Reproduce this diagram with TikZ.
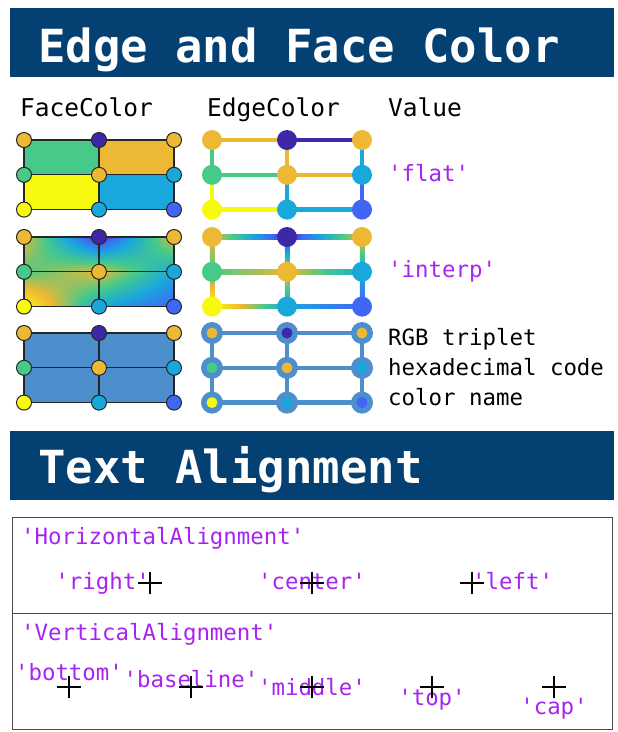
\documentclass[tikz,border=0pt]{standalone}
\usepackage{fontspec}
\setmonofont{DejaVu Sans Mono}
\usetikzlibrary{positioning}

\definecolor{banner}{RGB}{4,64,113}
\definecolor{strcol}{RGB}{167,35,240}
\definecolor{gridgray}{gray}{0.15}
\definecolor{boxgray}{gray}{0.3}
\definecolor{steel}{rgb}{0.30,0.56,0.80}
\definecolor{vorange}{rgb}{0.93,0.72,0.20}
\definecolor{vindigo}{rgb}{0.24,0.16,0.66}
\definecolor{vgreen}{rgb}{0.28,0.79,0.54}
\definecolor{vcyan}{rgb}{0.10,0.66,0.86}
\definecolor{vyellow}{rgb}{0.97,0.98,0.06}
\definecolor{vblue}{rgb}{0.25,0.40,0.96}
% vertex colours, column/row
\colorlet{vc00}{vorange}\colorlet{vc10}{vindigo}\colorlet{vc20}{vorange}
\colorlet{vc01}{vgreen}\colorlet{vc11}{vorange}\colorlet{vc21}{vcyan}
\colorlet{vc02}{vyellow}\colorlet{vc12}{vcyan}\colorlet{vc22}{vblue}

% colormap lookup, value on stack -> r g b
\def\parulamap{dup 0.35 lt {dup 0.15 lt {0.15 div dup 0.01 mul 0.24 add exch dup 0.24 mul 0.16 add exch 0.30 mul 0.66 add} {0.15 sub 0.2 div dup -0.15 mul 0.25 add exch dup 0.26 mul 0.40 add exch -0.10 mul 0.96 add} ifelse} {dup 0.75 lt {dup 0.55 lt {0.35 sub 0.2 div dup 0.18 mul 0.10 add exch dup 0.13 mul 0.66 add exch -0.32 mul 0.86 add} {0.55 sub 0.2 div dup 0.65 mul 0.28 add exch dup -0.07 mul 0.79 add exch -0.34 mul 0.54 add} ifelse} {0.75 sub 0.25 div dup 0.04 mul 0.93 add exch dup 0.26 mul 0.72 add exch -0.14 mul 0.20 add} ifelse} ifelse}
% name, bottom left, bottom right, top left, top right
\newcommand\interpshade[5]{%
  \pgfmathsetmacro\ipA{#3-(#2)}%
  \pgfmathsetmacro\ipB{#4-(#2)}%
  \pgfmathsetmacro\ipC{#5-(#3)-(#4)+(#2)}%
  \edef\iptmp{\noexpand\pgfdeclarefunctionalshading{#1}{\noexpand\pgfpointorigin}{\noexpand\pgfpoint{100bp}{100bp}}{}{25 sub 50 div exch 25 sub 50 div exch 2 copy mul \ipC\space mul exch \ipB\space mul add exch \ipA\space mul add #2 add dup 0 lt {pop 0} if dup 1 gt {pop 1} if \parulamap}}%
  \iptmp}
% faces
\interpshade{fc00}{0.55}{0.75}{0.75}{0}
\interpshade{fc10}{0.75}{0.35}{0}{0.75}
\interpshade{fc01}{1}{0.35}{0.55}{0.75}
\interpshade{fc11}{0.35}{0.15}{0.75}{0.35}
% horizontal edges
\interpshade{eh00}{0.75}{0}{0.75}{0}
\interpshade{eh10}{0}{0.75}{0}{0.75}
\interpshade{eh01}{0.55}{0.75}{0.55}{0.75}
\interpshade{eh11}{0.75}{0.35}{0.75}{0.35}
\interpshade{eh02}{1}{0.35}{1}{0.35}
\interpshade{eh12}{0.35}{0.15}{0.35}{0.15}
% vertical edges
\interpshade{ev00}{0.55}{0.55}{0.75}{0.75}
\interpshade{ev01}{1}{1}{0.55}{0.55}
\interpshade{ev10}{0.75}{0.75}{0}{0}
\interpshade{ev11}{0.35}{0.35}{0.75}{0.75}
\interpshade{ev20}{0.35}{0.35}{0.75}{0.75}
\interpshade{ev21}{0.15}{0.15}{0.35}{0.35}

\tikzset{
  titletext/.style={font=\ttfamily\bfseries\fontsize{45.6}{50}\selectfont, text=white, inner sep=0pt, anchor=base west},
  headtext/.style={font=\ttfamily\fontsize{24.5}{28}\selectfont, inner sep=0pt, anchor=base west},
  valtext/.style={font=\ttfamily\fontsize{22.4}{26}\selectfont, inner sep=0pt},
  strtext/.style={valtext, text=strcol},
  gridline/.style={draw=gridgray, line width=1.3pt},
  facedot/.style={draw=gridgray, line width=1pt},
  edgeline/.style={line width=4.5pt},
  boxline/.style={draw=boxgray, line width=1pt},
  crossmark/.pic={\draw[line width=1.3pt] (-12pt,0pt) -- (12pt,0pt) (0pt,-11pt) -- (0pt,11pt);}
}

\begin{document}
\begin{tikzpicture}[x=1pt,y=-1pt]
  \useasboundingbox (0,0) rectangle (618,732);

  % Edge and Face Color
  \fill[banner] (10,8) rectangle (614,77);
  \node[titletext] (ttl1) at (38,62) {Edge and Face Color};
  \node[headtext] (hface) at (20,116) {FaceColor};
  \node[headtext] (hedge) at (207,116) {EdgeColor};
  \node[headtext] (hval) at (388,116) {Value};

  \foreach \b/\yy in {1/140,2/237,3/333}
    \foreach \i in {0,1,2}
      \foreach \j in {0,1,2}{
        \coordinate (f\b-\i-\j) at (24+75*\i,\yy+34.8*\j);
        \coordinate (e\b-\i-\j) at (212+75*\i,\yy+34.8*\j);
      }

  % faces
  \foreach \i/\j [evaluate=\i as \ii using int(\i+1), evaluate=\j as \jj using int(\j+1)] in {0/0,1/0,0/1,1/1}{
    \fill[color=vc\i\jj] (f1-\i-\j) rectangle (f1-\ii-\jj);
    \shade[shading=fc\i\j] (f2-\i-\j) rectangle (f2-\ii-\jj);
    \fill[steel] (f3-\i-\j) rectangle (f3-\ii-\jj);
  }
  \foreach \b in {1,2,3}
    \draw[gridline] (f\b-0-0) rectangle (f\b-2-2) (f\b-1-0) -- (f\b-1-2) (f\b-0-1) -- (f\b-2-1);

  % edges
  \foreach \i/\j [evaluate=\i as \ii using int(\i+1)] in {0/0,1/0,0/1,1/1,0/2,1/2}{
    \draw[edgeline, color=vc\i\j] (e1-\i-\j) -- (e1-\ii-\j);
    \shade[shading=eh\i\j] ([yshift=2.25pt]e2-\i-\j) rectangle ([yshift=-2.25pt]e2-\ii-\j);
    \draw[edgeline, steel] (e3-\i-\j) -- (e3-\ii-\j);
  }
  \foreach \i/\j [evaluate=\j as \jj using int(\j+1)] in {0/0,0/1,1/0,1/1,2/0,2/1}{
    \draw[edgeline, color=vc\i\jj] (e1-\i-\j) -- (e1-\i-\jj);
    \shade[shading=ev\i\j] ([xshift=-2.25pt]e2-\i-\j) rectangle ([xshift=2.25pt]e2-\i-\jj);
    \draw[edgeline, steel] (e3-\i-\j) -- (e3-\i-\jj);
  }

  % vertices
  \foreach \i in {0,1,2}
    \foreach \j in {0,1,2}{
      \foreach \b in {1,2,3}
        \filldraw[facedot, fill=vc\i\j] (f\b-\i-\j) circle[radius=7.5pt];
      \fill[color=vc\i\j] (e1-\i-\j) circle[radius=10pt];
      \fill[color=vc\i\j] (e2-\i-\j) circle[radius=10pt];
      \fill[steel] (e3-\i-\j) circle[radius=11pt];
      \fill[color=vc\i\j] (e3-\i-\j) circle[radius=5.5pt];
    }

  \node[strtext, anchor=base west] (vflat) at (388,181) {'flat'};
  \node[strtext, anchor=base west] (vinterp) at (388,277) {'interp'};
  \node[valtext, anchor=base west] (vrgb) at (388,345) {RGB triplet};
  \node[valtext, anchor=base west] (vhex) at (388,375) {hexadecimal code};
  \node[valtext, anchor=base west] (vname) at (388,405) {color name};

  % Text Alignment
  \fill[banner] (10,431) rectangle (614,500);
  \node[titletext] (ttl2) at (38,483) {Text Alignment};
  \draw[boxline] (12,517) rectangle (612,729);
  \draw[boxline] (12,613) -- (612,613);

  \node[strtext, anchor=base west] (hal) at (21,544) {'HorizontalAlignment'};
  \coordinate (hright) at (150,583);
  \coordinate (hcenter) at (312,583);
  \coordinate (hleft) at (472,583);
  \node[strtext, anchor=base east] (tright) at ([yshift=-6pt]hright) {'right'};
  \node[strtext, anchor=base] (tcenter) at ([yshift=-6pt]hcenter) {'center'};
  \node[strtext, anchor=base west] (tleft) at ([yshift=-6pt]hleft) {'left'};

  \node[strtext, anchor=base west] (val) at (21,640) {'VerticalAlignment'};
  \coordinate (vbottom) at (69,687);
  \coordinate (vbase) at (191,687);
  \coordinate (vmiddle) at (312,687);
  \coordinate (vtop) at (432,687);
  \coordinate (vcap) at (554,687);
  \node[strtext, anchor=base] (tbottom) at ([yshift=7pt]vbottom) {'bottom'};
  \node[strtext, anchor=base] (tbase) at (vbase) {'baseline'};
  \node[strtext, anchor=base] (tmiddle) at ([yshift=-8pt]vmiddle) {'middle'};
  \node[strtext, anchor=base] (ttop) at ([yshift=-18pt]vtop) {'top'};
  \node[strtext, anchor=base] (tcap) at ([yshift=-27pt]vcap) {'cap'};

  \foreach \p in {hright,hcenter,hleft,vbottom,vbase,vmiddle,vtop,vcap}
    \pic at (\p) {crossmark};
\end{tikzpicture}
\end{document}
